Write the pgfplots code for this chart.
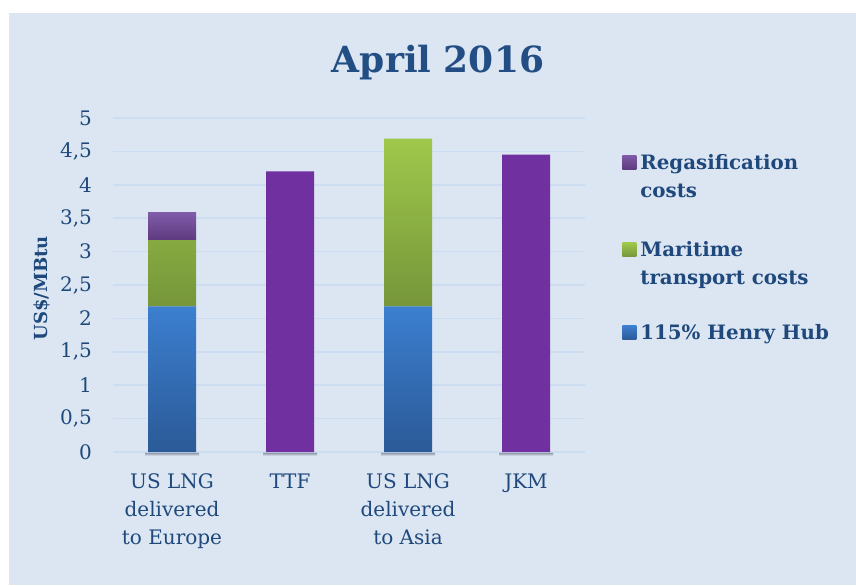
\documentclass[border=0pt]{standalone}
\usepackage{pgfplots}
\pgfplotsset{compat=1.18}
\usepackage{fontspec}
\setmainfont{DejaVu Serif}
\definecolor{bg}{HTML}{DCE6F2}
\definecolor{txt}{HTML}{1F497D}
\definecolor{ttl}{HTML}{234E85}
\definecolor{gridc}{HTML}{CCDDF1}
\definecolor{hhB}{HTML}{2B5A97}
\definecolor{hhT}{HTML}{3C7FD0}
\definecolor{mtB}{HTML}{76963A}
\definecolor{mtT}{HTML}{9FC84B}
\definecolor{rgB}{HTML}{5E3B80}
\definecolor{rgT}{HTML}{805BA9}
\definecolor{purp}{HTML}{7030A0}
\definecolor{shad}{HTML}{8E98A6}
\newcommand\lt[1]{\begin{tabular}[t]{@{}l@{}}#1\end{tabular}}
\pgfplotsset{
  base/.style={at={(56.5pt,66.5pt)}, anchor=south west, scale only axis,
    width=236pt, height=167pt, xmin=-0.5, xmax=3.5, ymin=0, ymax=5, bar width=24pt},
  hidden/.style={base, axis lines=none, ticks=none},
  hh/.style={bottom color=hhB, top color=hhT, draw=none},
  mt/.style={bottom color=mtB, top color=mtT, draw=none},
  rg/.style={bottom color=rgB, top color=rgT, draw=none},
}
\begin{document}
\begin{tikzpicture}[x=1pt,y=1pt]
\useasboundingbox (0,0) rectangle (428,292.5);
\fill[white] (0,0) rectangle (428,292.5);
\fill[bg] (4.5,0) rectangle (428,286);
% axis A: grid, ticks, labels, legend
\begin{axis}[base,
  axis line style={draw=none}, major tick length=0pt,
  ymajorgrids, grid style={gridc, line width=0.8pt},
  ytick={0,0.5,...,5},
  xtick={0,1,2,3},
  xticklabels={{US LNG\\delivered\\to Europe}, TTF, {US LNG\\delivered\\to Asia}, JKM},
  tick label style={font=\fontsize{10}{14}\selectfont, text=txt},
  xticklabel style={align=center, yshift=-7.5pt},
  yticklabel style={xshift=-7pt, /pgf/number format/.cd, use comma, fixed, precision=1, assume math mode=true},
  ylabel={US\$/MBtu},
  ylabel style={at={(axis description cs:-0.15,0.49)}, anchor=center, font=\bfseries\fontsize{9}{11}\selectfont, text=txt},
  legend style={at={(1,1)}, anchor=north west, xshift=15.5pt, yshift=-11.5pt, draw=none, fill=none,
    font=\bfseries\fontsize{9.9}{14}\selectfont, text=txt, row sep=28.5pt, cells={anchor=base west},
    nodes={inner xsep=2pt}},
  legend image code/.code={\path[#1] (0pt,0pt) rectangle (7pt,7pt);},
]
\addlegendimage{rg}
\addlegendentry{\lt{Regasification\\costs}}
\addlegendimage{mt}
\addlegendentry{\lt{Maritime\\transport costs}}
\addlegendimage{hh}
\addlegendentry{115\% Henry Hub}
\end{axis}
% axis S: soft shadow below the bars
\begin{axis}[hidden, ybar stacked, clip=false, bar width=27pt]
\addplot[draw=none, fill=none] coordinates {(0,-0.012) (1,-0.012) (2,-0.012) (3,-0.012)};
\addplot[draw=none, top color=shad, bottom color=bg] coordinates {(0,-0.045) (1,-0.045) (2,-0.045) (3,-0.045)};
\end{axis}
% axis H: Henry Hub + maritime
\begin{axis}[hidden, ybar stacked]
\addplot[hh] coordinates {(0,2.18) (2,2.18)};
\addplot[mt] coordinates {(0,1.00) (2,2.51)};
\end{axis}
% axis B: regasification on top of the Europe bar
\begin{axis}[hidden, ybar stacked]
\addplot[draw=none, fill=none] coordinates {(0,3.18)};
\addplot[rg] coordinates {(0,0.40)};
\end{axis}
% axis C: TTF and JKM
\begin{axis}[hidden, ybar]
\addplot[fill=purp, draw=none, bar shift=0pt] coordinates {(1,4.20) (3,4.45)};
\end{axis}
\node[anchor=base, font=\bfseries\fontsize{18}{22}\selectfont, text=ttl] at (219,256) {April 2016};
\end{tikzpicture}
\end{document}
